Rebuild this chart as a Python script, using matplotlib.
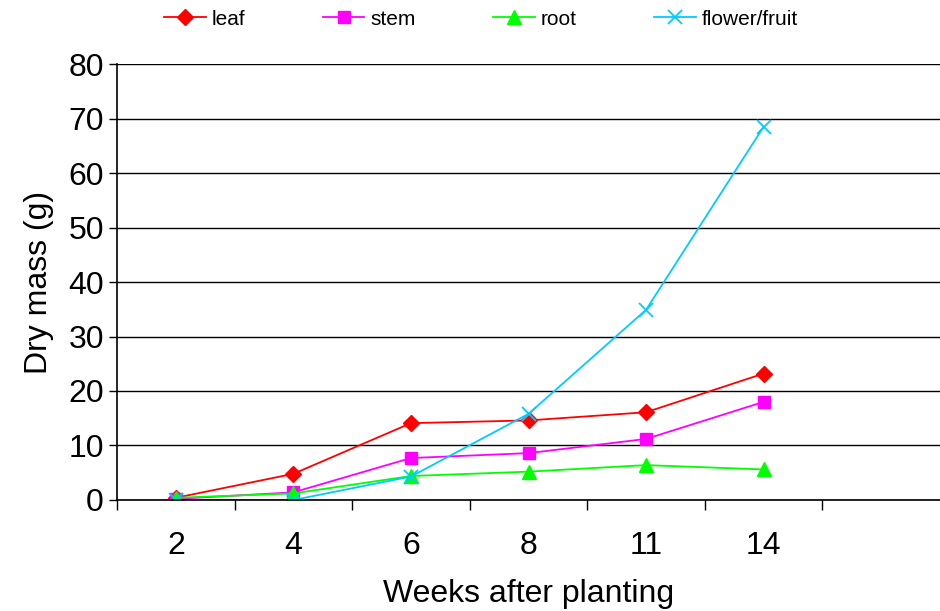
import matplotlib.pyplot as plt

plt.rcParams["font.family"] = ["Liberation Sans", "DejaVu Sans"]

# Dry mass per plant part over time
weeks = ["2", "4", "6", "8", "11", "14"]
leaf = [0.4, 4.8, 14.1, 14.6, 16.1, 23.2]
stem = [0.2, 1.4, 7.7, 8.6, 11.2, 18.0]
root = [0.4, 1.2, 4.4, 5.2, 6.4, 5.6]
flower = [0.0, 0.0, 4.3, 15.8, 34.9, 68.5]

fig = plt.figure(figsize=(9.4, 6.11), dpi=100)
ax = fig.add_axes([0.1245, 0.1817, 0.8755, 0.7135])

x = list(range(len(weeks)))
ax.plot(x, leaf, color="#ff0000", marker="D", markersize=8, lw=1.3, label="leaf")
ax.plot(x, stem, color="#ff00ff", marker="s", markersize=9, lw=1.3, label="stem")
ax.plot(x, root, color="#00ff00", marker="^", markersize=10, lw=1.3, label="root")
ax.plot(x, flower, color="#00ccff", marker="x", markersize=10, mew=1.3, lw=1.3,
        label="flower/fruit")

# seven category slots, the last one left empty
ax.set_xlim(-0.5, 6.5)
ax.set_xticks(x)
ax.set_xticklabels(weeks)
ax.set_xticks([i - 0.5 for i in range(7)], minor=True)
ax.tick_params(axis="x", which="major", length=0, labelsize=23, pad=22)
ax.tick_params(axis="x", which="minor", length=7, width=1, direction="out")

ax.set_ylim(0, 80)
ax.set_yticks(range(0, 81, 10))
ax.tick_params(axis="y", length=6, width=1, direction="out", labelsize=23)
ax.yaxis.grid(True, color="black", lw=1)
ax.set_axisbelow(True)

for side in ["top", "right"]:
    ax.spines[side].set_visible(False)
ax.spines["left"].set_linewidth(1.2)
ax.spines["bottom"].set_linewidth(1.2)

ax.set_xlabel("Weeks after planting", fontsize=23, labelpad=13)
ax.set_ylabel("Dry mass (g)", fontsize=23, labelpad=10)

fig.legend(loc="upper center", bbox_to_anchor=(0.512, 1.015), ncol=4, frameon=False,
           fontsize=15, handlelength=2.0, columnspacing=3.7, handletextpad=0.3)

fig.savefig("out.png")
